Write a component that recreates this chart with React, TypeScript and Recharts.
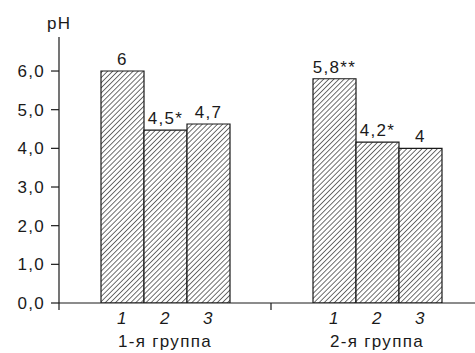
import React from 'react';
import { BarChart, Bar, XAxis, YAxis, LabelList } from 'recharts';

const groups = ['1-я группа', '2-я группа'];
const bar1Values = [6.0, 5.8];
const bar2Values = [4.47, 4.16];
const bar3Values = [4.63, 4.0];
const bar1Labels = ['6', '5,8**'];
const bar2Labels = ['4,5*', '4,2*'];
const bar3Labels = ['4,7', '4'];
const barNumbers = ['1', '2', '3'];
const yTicks = [0, 1, 2, 3, 4, 5, 6];
const yLabel = 'pH';

const data = groups.map((g, i) => ({
  group: g,
  v1: bar1Values[i],
  v2: bar2Values[i],
  v3: bar3Values[i],
  l1: bar1Labels[i],
  l2: bar2Labels[i],
  l3: bar3Labels[i],
}));

const FONT = "'Liberation Sans', Arial, Helvetica, sans-serif";
const FS = 17;
const LS = 1.3;
const INK = '#1a1a1a';

const makeLabel = (num: string) => (props: any) => {
  const { x, y, width, height, value } = props;
  const cx = Number(x) + Number(width) / 2;
  const base = Number(y) + Number(height);
  return (
    <g>
      <text x={cx} y={Number(y) - 6} textAnchor="middle" fontFamily={FONT} fontSize={FS} letterSpacing={LS} fill={INK}>
        {value}
      </text>
      <text x={cx} y={base + 21} textAnchor="middle" fontFamily={FONT} fontSize={FS} fontStyle="italic" letterSpacing={LS} fill={INK}>
        {num}
      </text>
    </g>
  );
};

const GroupTick = (props: any) => {
  const { x, y, payload } = props;
  const off = payload && payload.offset ? payload.offset : 0;
  return (
    <g>
      <line x1={x - off} x2={x - off} y1={303} y2={310} stroke={INK} strokeWidth={1.2} />
      <text x={x} y={347} textAnchor="middle" fontFamily={FONT} fontSize={FS} letterSpacing={LS} fill={INK}>
        {payload.value}
      </text>
    </g>
  );
};

export default function App() {
  return (
    <div style={{ position: 'absolute', left: 0, top: 0, width: 475, height: 353, overflow: 'hidden', background: '#fff' }}>
      <svg width={0} height={0} style={{ position: 'absolute' }}>
        <defs>
          <pattern id="hatch" patternUnits="userSpaceOnUse" width={3.6} height={3.6} patternTransform="rotate(45)">
            <rect width={3.6} height={3.6} fill="#fff" />
            <line x1={0} y1={0} x2={0} y2={3.6} stroke="#222" strokeWidth={1.3} />
          </pattern>
        </defs>
      </svg>
      <svg width={475} height={353} style={{ position: 'absolute', left: 0, top: 0, pointerEvents: 'none' }}>
        <text x={47} y={29} fontFamily={FONT} fontSize={FS} letterSpacing={LS} fill={INK}>{yLabel}</text>
      </svg>
      <BarChart
        width={490}
        height={353}
        data={data}
        margin={{ top: 37, right: 7, bottom: 0, left: 0 }}
        barGap={0}
        barCategoryGap={42}
      >
        <XAxis
          dataKey="group"
          height={50}
          interval={0}
          tickLine={false}
          axisLine={{ stroke: INK, strokeWidth: 1.2 }}
          tick={<GroupTick />}
        />
        <YAxis
          width={59}
          domain={[0, 6.88]}
          ticks={yTicks}
          tickSize={8}
          tickMargin={6}
          axisLine={{ stroke: INK, strokeWidth: 1.2 }}
          tickLine={{ stroke: INK, strokeWidth: 1.2 }}
          tickFormatter={(v: number) => v.toFixed(1).replace('.', ',')}
          tick={{ fontFamily: FONT, fontSize: FS, fill: INK, letterSpacing: LS }}
          allowDataOverflow
        />
        <Bar dataKey="v1" fill="url(#hatch)" stroke={INK} strokeWidth={1.2} isAnimationActive={false}>
          <LabelList dataKey="l1" content={makeLabel(barNumbers[0])} />
        </Bar>
        <Bar dataKey="v2" fill="url(#hatch)" stroke={INK} strokeWidth={1.2} isAnimationActive={false}>
          <LabelList dataKey="l2" content={makeLabel(barNumbers[1])} />
        </Bar>
        <Bar dataKey="v3" fill="url(#hatch)" stroke={INK} strokeWidth={1.2} isAnimationActive={false}>
          <LabelList dataKey="l3" content={makeLabel(barNumbers[2])} />
        </Bar>
      </BarChart>
    </div>
  );
}
